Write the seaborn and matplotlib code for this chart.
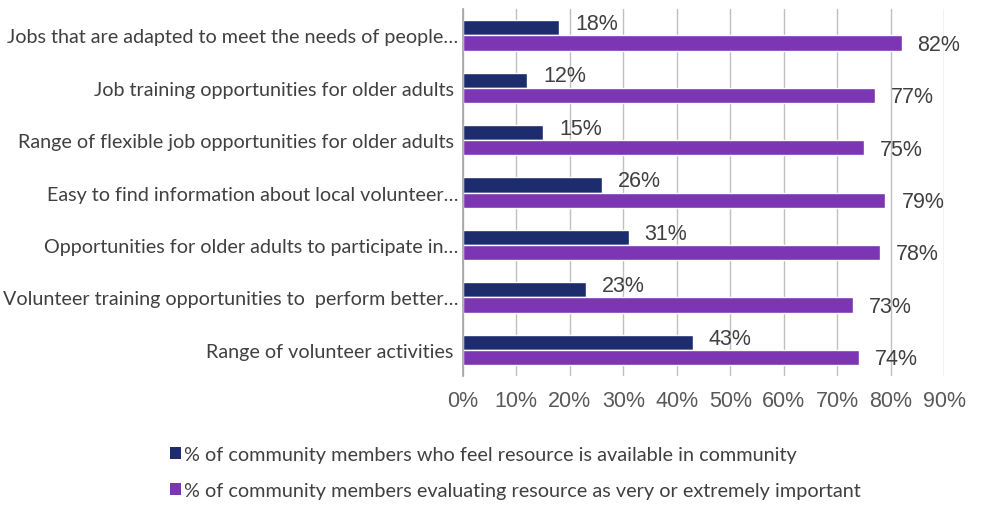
import matplotlib
matplotlib.use("Agg")
import matplotlib.pyplot as plt
import seaborn as sns
import pandas as pd
from matplotlib.ticker import MultipleLocator, FuncFormatter
from matplotlib.patches import Patch

categories = [
    "Jobs that are adapted to meet the needs of people…",
    "Job training opportunities for older adults ",
    "Range of flexible job opportunities for older adults ",
    "Easy to find information about local volunteer…",
    "Opportunities for older adults to participate in…",
    "Volunteer training opportunities to  perform better…",
    "Range of volunteer activities ",
]
available = [18, 12, 15, 26, 31, 23, 43]
important = [82, 77, 75, 79, 78, 73, 74]
series_names = [
    "% of community members who feel resource is available in community",
    "% of community members evaluating resource as very or extremely important",
]
colors = ["#1d2c6c", "#7c36b4"]

df = pd.DataFrame({
    "category": categories * 2,
    "value": available + important,
    "series": [series_names[0]] * len(categories) + [series_names[1]] * len(categories),
})

sns.set_theme(style="white")
label_font = ["Lato", "DejaVu Sans"]
num_font = ["Liberation Sans", "DejaVu Sans"]

fig = plt.figure(figsize=(9.93, 5.06), dpi=100)
ax = fig.add_axes([0.466, 0.255, 0.485, 0.725])

sns.barplot(data=df, y="category", x="value", hue="series", orient="h",
            palette=colors, width=0.58, ax=ax, legend=False,
            order=categories, hue_order=series_names, saturation=1)

ax.set_xlim(0, 90)
ax.xaxis.set_major_locator(MultipleLocator(10))
ax.xaxis.set_major_formatter(FuncFormatter(lambda v, p: f"{v:.0f}%"))
ax.set_xlabel("")
ax.set_ylabel("")
ax.grid(axis="x", color="#c0c0c0", linewidth=1)
ax.set_axisbelow(True)
for side in ["top", "right", "bottom"]:
    ax.spines[side].set_visible(False)
ax.spines["left"].set_color("#a6a6a6")
ax.tick_params(axis="y", length=0, pad=3)
ax.tick_params(axis="x", length=0, pad=10)
for t in ax.get_yticklabels():
    t.set_fontfamily(label_font)
    t.set_fontsize(14.2)
    t.set_color("#404040")
for t in ax.get_xticklabels():
    t.set_fontfamily(num_font)
    t.set_fontsize(15.5)
    t.set_color("#595959")

# value labels at the end of each bar
for container, vals, dy in zip(ax.containers, [available, important], [3, -1]):
    for bar, v in zip(container, vals):
        y = bar.get_y() + bar.get_height() / 2
        ax.annotate(f"{v}%", xy=(v, y), xytext=(11.5, dy), textcoords="offset points",
                    ha="left", va="center", fontsize=15.5, color="#404040",
                    fontfamily=num_font)

handles = [Patch(facecolor=c, edgecolor="none") for c in colors]
leg = fig.legend(handles, series_names, loc="upper left", bbox_to_anchor=(0.153, 0.151),
                 frameon=False, ncol=1, handlelength=0.55, handleheight=0.55,
                 handletextpad=0.15, labelspacing=0.95,
                 prop={"family": label_font, "size": 14.3})
for t in leg.get_texts():
    t.set_color("#404040")

fig.savefig("out.png", dpi=100)
